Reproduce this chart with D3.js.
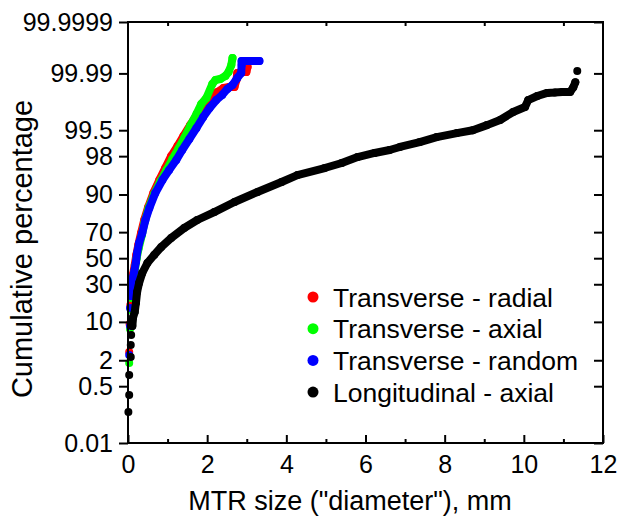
<!DOCTYPE html>
<html>
<head>
<meta charset="utf-8">
<script src="https://cdn.jsdelivr.net/npm/d3@7"></script>
<style>
  html, body { margin: 0; padding: 0; background: #fff; }
  svg { display: block; font-family: "Liberation Sans", Arial, sans-serif; }
</style>
</head>
<body>
<svg id="chart" width="619" height="519"></svg>
<script>
// Cumulative size distributions (size in mm, cumulative percentage)
const radialX = [0.03,0.04,0.06,0.08,0.11,0.13,0.17,0.21,0.26,0.33,0.41,0.51,0.64,0.79,0.94,1.09,1.25,1.40,1.57,1.75,1.93,2.11,2.26,2.41,2.56,2.69,2.74,2.76,2.89,2.99,3.02];
const radialP = [2.96,9.28,17.31,23.57,30.89,37.52,44.55,52.57,60.49,69.39,77.90,84.85,90.52,94.21,96.52,98.01,98.80,99.30,99.63,99.814,99.904,99.945,99.959,99.9693,99.9714,99.9714,99.9832,99.9903,99.9910,99.9910,99.9940];

const axialX = [0.03,0.05,0.07,0.10,0.12,0.14,0.18,0.22,0.27,0.35,0.42,0.52,0.66,0.82,0.97,1.12,1.27,1.42,1.57,1.73,1.85,1.98,2.13,2.21,2.33,2.46,2.54,2.61,2.64];
const axialP = [1.75,7.71,14.87,21.16,27.43,34.53,42.19,50.16,58.12,67.97,76.68,84.37,90.18,93.98,96.20,97.70,98.60,99.22,99.61,99.814,99.904,99.937,99.9772,99.9832,99.9845,99.9877,99.9910,99.9949,99.9972];

const randomX = [0.03,0.05,0.05,0.08,0.11,0.13,0.16,0.20,0.23,0.28,0.36,0.44,0.54,0.69,0.87,1.04,1.22,1.37,1.55,1.73,1.90,2.06,2.23,2.38,2.51,2.64,2.76,2.86,2.87,2.87,3.02,3.17,3.32];
const randomP = [2.57,8.63,15.82,22.34,28.8,35.27,39.82,46.97,54.18,62.02,69.39,77.90,84.37,90.52,94.21,96.20,97.59,98.53,99.176,99.56,99.775,99.874,99.927,99.949,99.967,99.9754,99.9856,99.9903,99.9949,99.9964,99.9964,99.9964,99.9964];

const longX = [0.01,0.03,0.03,0.07,0.07,0.08,0.11,0.13,0.17,0.20,0.23,0.28,0.36,0.49,0.66,0.84,1.09,1.42,1.75,2.18,2.69,3.27,3.88,4.28,4.97,5.40,5.80,6.23,6.61,6.87,7.37,7.80,8.31,8.71,9.07,9.40,9.73,10.03,10.11,10.34,10.59,10.78,10.97,11.17,11.25,11.30,11.35];
const longP = [0.098,0.296,0.94,2.34,4.04,6.12,8.63,11.84,13.96,18.38,24.82,30.89,38.29,46.14,52.57,58.90,65.77,72.83,77.90,82.37,87.09,90.86,93.74,95.29,96.52,97.23,97.91,98.29,98.53,98.74,99.03,99.26,99.41,99.50,99.63,99.729,99.837,99.883,99.927,99.945,99.956,99.957,99.959,99.959,99.971,99.980,99.9917];

const seriesNames = ["Transverse - radial","Transverse - axial","Transverse - random","Longitudinal - axial"];

const xTicks = [0,2,4,6,8,10,12];
const xMinorTicks = [1,3,5,7,9,11];
const yTickValues = [0.01,0.5,2,10,30,50,70,90,98,99.5,99.99,99.9999];
const yTickLabels = ["0.01","0.5","2","10","30","50","70","90","98","99.5","99.99","99.9999"];

// Inverse standard normal CDF (Acklam's rational approximation)
function probit(p) {
  const a = [-3.969683028665376e+01, 2.209460984245205e+02, -2.759285104469687e+02, 1.383577518672690e+02, -3.066479806614716e+01, 2.506628277459239e+00];
  const b = [-5.447609879822406e+01, 1.615858368580409e+02, -1.556989798598866e+02, 6.680131188771972e+01, -1.328068155288572e+01];
  const c = [-7.784894002430293e-03, -3.223964580411365e-01, -2.400758277161838e+00, -2.549671010115146e+00, 4.374664141464968e+00, 2.938163982698783e+00];
  const d = [7.784695709041462e-03, 3.224671290700398e-01, 2.445134137142996e+00, 3.754408661907416e+00];
  const pl = 0.02425, ph = 1 - pl;
  if (p < pl) {
    const q = Math.sqrt(-2 * Math.log(p));
    return (((((c[0]*q+c[1])*q+c[2])*q+c[3])*q+c[4])*q+c[5]) / ((((d[0]*q+d[1])*q+d[2])*q+d[3])*q+1);
  }
  if (p <= ph) {
    const q = p - 0.5, r = q * q;
    return (((((a[0]*r+a[1])*r+a[2])*r+a[3])*r+a[4])*r+a[5])*q / (((((b[0]*r+b[1])*r+b[2])*r+b[3])*r+b[4])*r+1);
  }
  const q = Math.sqrt(-2 * Math.log(1 - p));
  return -(((((c[0]*q+c[1])*q+c[2])*q+c[3])*q+c[4])*q+c[5]) / ((((d[0]*q+d[1])*q+d[2])*q+d[3])*q+1);
}
const pz = pct => probit(pct / 100);

// Layout
const plot = { left: 128, right: 603, top: 22, bottom: 443 };
const svg = d3.select("#chart");

const x = d3.scaleLinear().domain([0, 12]).range([plot.left, plot.right]);
// probability axis: linear in normal quantile
const yz = d3.scaleLinear()
  .domain([pz(yTickValues[0]), pz(yTickValues[yTickValues.length - 1])])
  .range([plot.bottom, plot.top]);
const y = pct => yz(pz(pct));

// Series: points plus a dense band where the markers overlap
const series = [
  { name: seriesNames[0], color: "#ff0000", xs: radialX, ps: radialP, band: [3, radialX.length] },
  { name: seriesNames[1], color: "#00ff00", xs: axialX, ps: axialP, band: [3, axialX.length] },
  { name: seriesNames[2], color: "#0000ff", xs: randomX, ps: randomP, band: [3, randomX.length] },
  { name: seriesNames[3], color: "#000000", xs: longX, ps: longP, band: [6, longX.length - 1] }
];
const R = 4;

const line = d3.line().x(d => x(d[0])).y(d => y(d[1])).curve(d3.curveLinear);

const marks = svg.append("g");
series.forEach(s => {
  const pts = s.xs.map((v, i) => [v, s.ps[i]]);
  const g = marks.append("g");
  g.append("path")
    .datum(pts.slice(s.band[0], s.band[1]))
    .attr("d", line)
    .attr("fill", "none")
    .attr("stroke", s.color)
    .attr("stroke-width", 2 * R)
    .attr("stroke-linejoin", "round")
    .attr("stroke-linecap", "round");
  g.selectAll("circle").data(pts).join("circle")
    .attr("cx", d => x(d[0]))
    .attr("cy", d => y(d[1]))
    .attr("r", R)
    .attr("fill", s.color);
});

// Axes
const tickFont = 25;
const axisStroke = 2;

// left
const leftAxis = svg.append("g")
  .attr("transform", `translate(${plot.left},0)`)
  .call(d3.axisLeft(yz)
    .tickValues(yTickValues.map(pz))
    .tickFormat((d, i) => yTickLabels[i])
    .tickSize(9).tickPadding(6));
// right
const rightAxis = svg.append("g")
  .attr("transform", `translate(${plot.right},0)`)
  .call(d3.axisRight(yz)
    .tickValues(yTickValues.map(pz))
    .tickFormat("")
    .tickSize(-9));
// bottom
const bottomAxis = svg.append("g")
  .attr("transform", `translate(0,${plot.bottom})`)
  .call(d3.axisBottom(x).tickValues(xTicks).tickFormat(d3.format("d")).tickSize(-8).tickPadding(12));
const bottomMinor = svg.append("g")
  .attr("transform", `translate(0,${plot.bottom})`)
  .call(d3.axisBottom(x).tickValues(xMinorTicks).tickFormat("").tickSize(-4));
// top
const topAxis = svg.append("g")
  .attr("transform", `translate(0,${plot.top})`)
  .call(d3.axisTop(x).tickValues(xMinorTicks).tickFormat("").tickSize(-4));

[leftAxis, rightAxis, bottomAxis, bottomMinor, topAxis].forEach(a => {
  a.select(".domain").remove();
  a.selectAll(".tick line").attr("stroke", "#000").attr("stroke-width", axisStroke);
  a.selectAll("text").attr("font-size", tickFont).attr("fill", "#000")
    .attr("font-family", '"Liberation Sans", Arial, sans-serif');
});

// frame
svg.append("rect")
  .attr("x", plot.left).attr("y", plot.top)
  .attr("width", plot.right - plot.left).attr("height", plot.bottom - plot.top)
  .attr("fill", "none").attr("stroke", "#000").attr("stroke-width", axisStroke);

// Axis titles
svg.append("text")
  .attr("x", 350).attr("y", 510)
  .attr("text-anchor", "middle")
  .attr("font-size", 27)
  .text('MTR size ("diameter"), mm');

svg.append("text")
  .attr("transform", "translate(32,249) rotate(-90)")
  .attr("text-anchor", "middle")
  .attr("font-size", 29)
  .text("Cumulative percentage");

// Legend
const legend = svg.append("g").attr("transform", "translate(313,297)");
series.forEach((s, i) => {
  const row = legend.append("g").attr("transform", `translate(0,${i * 31.7})`);
  row.append("circle").attr("r", 5.5).attr("fill", s.color);
  row.append("text").attr("x", 20).attr("dy", "0.36em")
    .attr("font-size", 26.5).text(s.name);
});
</script>
</body>
</html>
